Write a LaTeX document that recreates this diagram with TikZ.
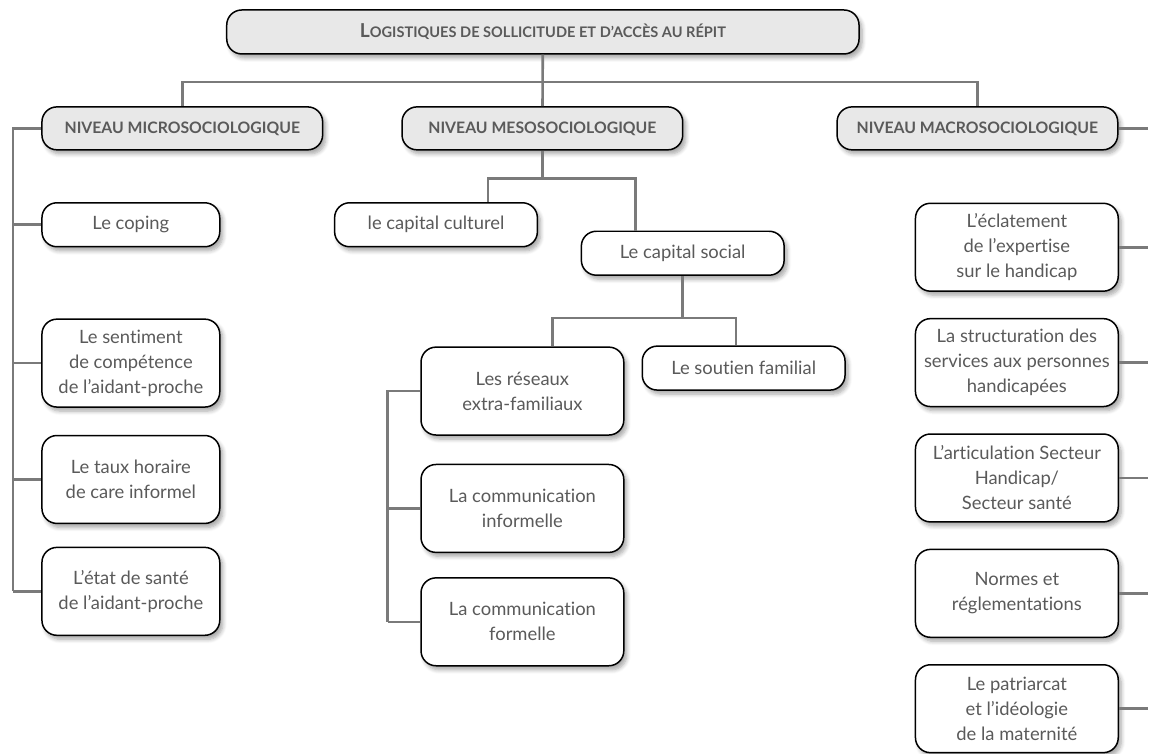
\documentclass[tikz,border=0pt]{standalone}
\usepackage{fontspec}
\setmainfont{Lato}[Ligatures=NoCommon]
\usetikzlibrary{positioning,shadows.blur}
\definecolor{txtgray}{HTML}{5A5A5A}
\definecolor{linegray}{HTML}{7A7A7A}
\definecolor{headfill}{HTML}{E8E8E8}

\begin{document}
\begin{tikzpicture}[
    x=0.5pt, y=-0.5pt,
    node distance=13pt,
    box/.style={rectangle, draw=black, line width=0.75pt, fill=white, rounded corners=7.5pt, text=txtgray, font=\fontsize{9.2}{12.5}\selectfont, align=center, minimum width=101.5pt, minimum height=44pt, inner sep=2pt, blur shadow={shadow xshift=1.5pt, shadow yshift=-2pt, shadow blur steps=6, shadow opacity=35}},
    onebox/.style={box, minimum height=22pt},
    leftbox/.style={box, minimum width=89pt},
    headbox/.style={box, fill=headfill, minimum width=140.5pt, minimum height=21.5pt, font=\bfseries\fontsize{7.9}{9}\selectfont},
    link/.style={draw=linegray, line width=1.3pt},
]
% tronc commun
\node[headbox, minimum width=316.5pt, minimum height=22pt, font=\bfseries\fontsize{7.3}{9}\selectfont] (title) at (543.5,32) {{\fontsize{9.6}{9}\selectfont L}OGISTIQUES DE SOLLICITUDE ET D’ACCÈS AU RÉPIT};
\node[headbox] (micro) at (182.5,128.5) {NIVEAU MICROSOCIOLOGIQUE};
\node[headbox] (meso) at (543,128.5) {NIVEAU MESOSOCIOLOGIQUE};
\node[headbox] (macro) at (978.5,128.5) {NIVEAU MACROSOCIOLOGIQUE};

% niveau micro
\node[leftbox, minimum height=22pt] (coping) at (131,225) {Le coping};
\node[leftbox] (sentiment) at (131,363.5) {Le sentiment\\de compétence\\de l’aidant-proche};
\node[leftbox] (taux) at (131,480) {Le taux horaire\\de care informel};
\node[leftbox] (etat) at (131,592) {L’état de santé\\de l’aidant-proche};

% niveau meso
\node[onebox] (culturel) at (436.5,225) {le capital culturel};
\node[onebox] (social) at (683.5,253.5) {Le capital social};
\node[box] (reseaux) at (523,391.5) {Les réseaux\\extra-familiaux};
\node[onebox] (soutien) at (744.5,368.5) {Le soutien familial};
\node[box, below=14pt of reseaux] (informelle) {La communication\\informelle};
\node[box, below=12pt of informelle] (formelle) {La communication\\formelle};

% niveau macro
\node[box] (eclat) at (1018,247.5) {L’éclatement\\de l’expertise\\sur le handicap};
\node[box, below=of eclat] (structur) {La structuration des\\services aux personnes\\handicapées};
\node[box, below=of structur] (articul) {L’articulation Secteur\\Handicap/\\Secteur santé};
\node[box, below=of articul] (normes) {Normes et\\réglementations};
\node[box, below=of normes] (patri) {Le patriarcat\\et l’idéologie\\de la maternité};

\coordinate (lspine) at (13,0);
\coordinate (rspine) at (388,0);
\coordinate (redge) at (1149,0);

% liaisons
\draw[link] (title) -- (meso);
\draw[link] (micro.north) -- ++(0,-24) -| (macro.north);
\draw[link] (micro.west) -| (lspine |- etat.west);
\foreach \n in {coping,sentiment,taux,etat}
    \draw[link] (\n.west) -- (\n.west -| lspine);
\draw[link] (meso.south) -- ++(0,28) coordinate (mfork);
\draw[link] ([xshift=26pt]culturel.north) |- (mfork) -| ([xshift=-23.75pt]social.north);
\draw[link] (social.south) -- ++(0,42) coordinate (sfork);
\draw[link] ([xshift=15pt]reseaux.north) |- (sfork) -| ([xshift=-3.75pt]soutien.north);
\draw[link] (reseaux.west) -| (rspine |- formelle.west);
\foreach \n in {informelle,formelle}
    \draw[link] (\n.west) -- (\n.west -| rspine);
\foreach \n in {macro,eclat,structur,articul,normes,patri}
    \draw[link] (\n.east) -- (\n.east -| redge);

\useasboundingbox (0,0) rectangle (1149,750);
\end{tikzpicture}
\end{document}
